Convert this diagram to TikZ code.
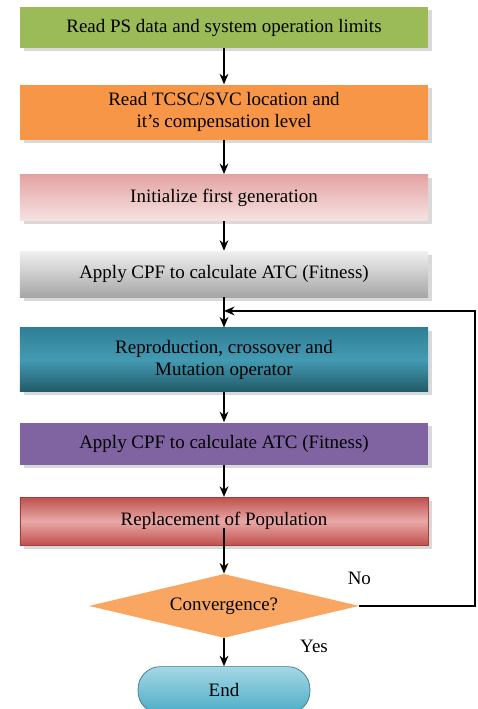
\documentclass[tikz,border=0pt]{standalone}
\usepackage{fontspec}
\setmainfont{Liberation Serif}
\usetikzlibrary{arrows.meta, positioning, shapes.geometric, shadows, calc}
\definecolor{flowgreen}{HTML}{9BBB59}
\definecolor{floworange}{HTML}{F79646}
\definecolor{flowpink}{HTML}{E3A3A2}
\definecolor{flowpinklt}{HTML}{F6E2E2}
\definecolor{flowteal}{HTML}{2F7F95}
\definecolor{flowtealdk}{HTML}{215968}
\definecolor{flowblue}{HTML}{4BACC6}
\definecolor{flowbluelt}{HTML}{A5D7E5}
\definecolor{flowpurple}{HTML}{8064A2}
\definecolor{flowred}{HTML}{C0504D}
\definecolor{flowredlt}{HTML}{E8A9A7}

\begin{document}
\begin{tikzpicture}[
    node distance=0.6cm,
    proc/.style={minimum width=8.16cm, minimum height=#1, align=center, inner sep=2pt, font=\fontsize{10.8}{12.5}\selectfont, drop shadow={shadow xshift=0.07cm, shadow yshift=-0.07cm, opacity=0.3}},
    decide/.style={diamond, aspect=4.2, minimum width=5.4cm, minimum height=1.28cm, inner sep=1pt, font=\fontsize{10.8}{12.5}\selectfont},
    term/.style={rounded corners=0.45cm, minimum width=3.44cm, minimum height=0.94cm, font=\fontsize{10.8}{12.5}\selectfont},
    lbl/.style={font=\fontsize{10.8}{12.5}\selectfont},
    arrow/.style={-{Stealth[length=6pt, width=5pt]}, line width=0.8pt, black}
  ]
    \useasboundingbox (0,0) rectangle (9.56,-14.18);

    \node[proc=0.82cm, fill=flowgreen] (b1) at (4.48,-0.55) {Read PS data and system operation limits};
    \node[proc=1.1cm, fill=floworange, below=0.72cm of b1] (b2) {Read TCSC/SVC location and\\ it’s compensation level};
    \node[proc=0.92cm, top color=flowpink, bottom color=flowpinklt, below=0.68cm of b2] (b3) {Initialize first generation};
    \node[proc=0.92cm, top color=gray!12, bottom color=gray!70, below=0.6cm of b3] (b4) {Apply CPF to calculate ATC (Fitness)};
    \node[proc=1.28cm, top color=flowteal, bottom color=flowtealdk, middle color=flowblue!90!black, below=0.6cm of b4] (b5) {Reproduction, crossover and\\ Mutation operator};
    \node[proc=0.84cm, fill=flowpurple, below=0.6cm of b5] (b6) {Apply CPF to calculate ATC (Fitness)};
    \node[proc=0.96cm, top color=flowred, bottom color=flowred, middle color=flowredlt, draw=flowred!80!black, below=0.64cm of b6] (b7) {Replacement of Population};
    \node[decide, fill=floworange!85, below=0.56cm of b7] (d) {Convergence?};
    \node[term, top color=flowbluelt, bottom color=flowblue, draw=flowblue!70!black, below=0.56cm of d] (e) {End};

    \coordinate (join) at ($(b4.south)!0.45!(b5.north)$);
    \coordinate (rt) at ($(join)+(5.02,0)$);

    \draw[arrow] (b1) -- (b2);
    \draw[arrow] (b2) -- (b3);
    \draw[arrow] (b3) -- (b4);
    \draw[arrow] (b4) -- (b5);
    \draw[arrow] (b5) -- (b6);
    \draw[arrow] (b6) -- (b7);
    \draw[arrow, shorten <=0.14cm] (b7.center) -- (d);
    \draw[arrow] (d) -- (e);
    \draw[arrow] (d.east) -| (rt) -- (join);

    \node[lbl, above=0.3cm of d.east] (no) {No};
    \node[lbl, right=1.4cm of d.south, yshift=-0.16cm] (yes) {Yes};
\end{tikzpicture}
\end{document}
